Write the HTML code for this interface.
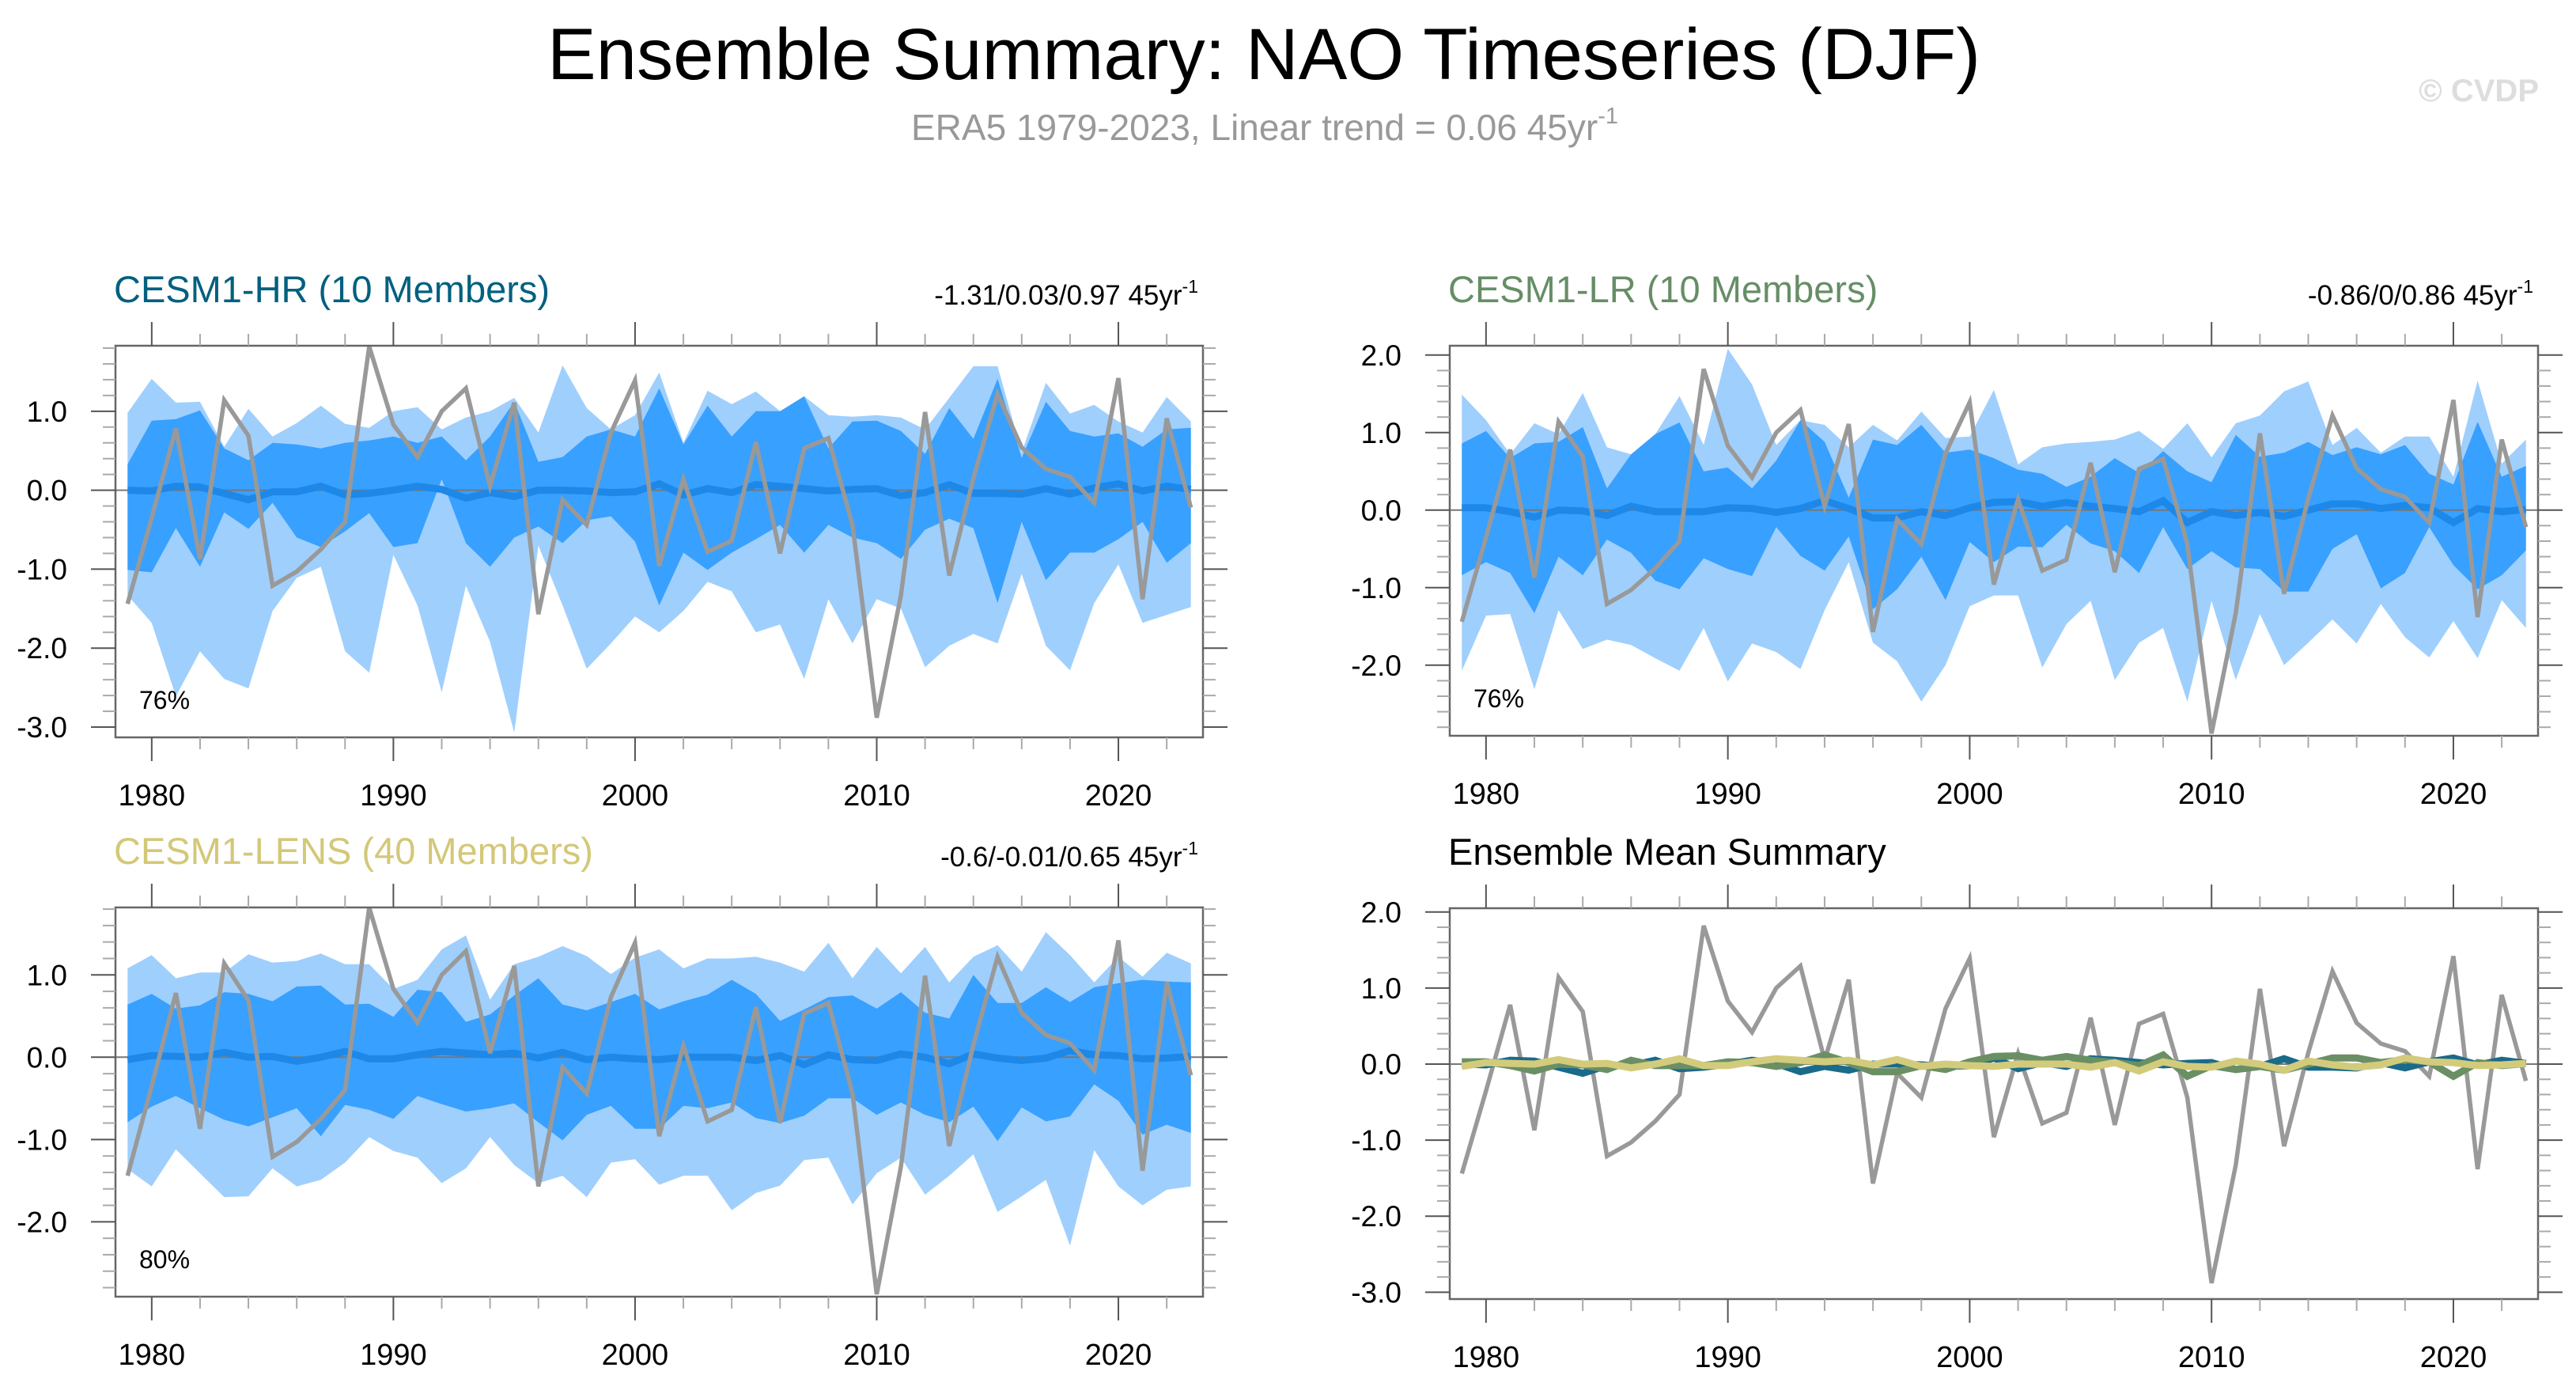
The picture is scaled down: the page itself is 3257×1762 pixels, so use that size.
<!DOCTYPE html>
<html><head><meta charset="utf-8">
<style>
html,body{margin:0;padding:0;background:#fff;}
svg{display:block;font-family:"Liberation Sans",Arial,sans-serif;}
</style></head>
<body>
<svg id="chart" xmlns="http://www.w3.org/2000/svg" width="3257" height="1762" viewBox="0 0 3257 1762">
<rect x="0" y="0" width="3257" height="1762" fill="#fff"/>
<text x="1598" y="100" font-size="92" text-anchor="middle" textLength="1812" lengthAdjust="spacingAndGlyphs" fill="#000">Ensemble Summary: NAO Timeseries (DJF)</text>
<text x="1152" y="177" font-size="46" fill="#999">ERA5 1979-2023, Linear trend = 0.06 45yr<tspan font-size="29" dy="-21">-1</tspan></text>
<text x="3210" y="128" font-size="40" font-weight="bold" text-anchor="end" fill="#ddd">© CVDP</text>
<g id="panels"></g>
</svg>
<script>
// ---- data ----
const years = [];
for (let y = 1979; y <= 2023; y++) years.push(y);
const era5 = [-1.44,-0.35,0.78,-0.87,1.14,0.69,-1.21,-1.03,-0.75,-0.40,1.82,0.83,0.42,1.0,1.29,0.05,1.11,-1.57,-0.12,-0.44,0.73,1.39,-0.96,0.14,-0.78,-0.64,0.61,-0.80,0.53,0.66,-0.44,-2.88,-1.33,0.99,-1.08,0.15,1.22,0.54,0.27,0.17,-0.16,1.42,-1.38,0.91,-0.22];

const hrOuterHi = [0.98,1.41,1.11,1.12,0.55,1.03,0.68,0.85,1.07,0.84,0.79,1.0,1.05,0.77,0.92,1.0,1.17,0.73,1.58,1.04,0.77,0.95,1.49,0.6,1.26,1.09,1.25,1.0,1.19,0.95,0.93,0.95,0.92,0.77,1.17,1.57,1.57,0.48,1.36,0.97,1.08,0.87,0.73,1.18,0.87];
const hrInnerHi = [0.33,0.88,0.9,1.01,0.53,0.38,0.6,0.58,0.53,0.6,0.63,0.68,0.6,0.68,0.38,0.68,1.12,0.36,0.42,0.68,0.77,0.68,1.29,0.58,1.07,0.68,1.0,1.0,1.19,0.53,0.87,0.88,0.75,0.46,1.04,0.65,1.41,0.41,1.12,0.75,0.68,0.72,0.55,0.77,0.79];
const hrInnerLo = [-1.01,-1.04,-0.48,-0.97,-0.28,-0.49,-0.16,-0.6,-0.72,-0.52,-0.29,-0.72,-0.67,0.14,-0.67,-0.97,-0.6,-0.46,-0.67,-0.38,-0.33,-0.65,-1.46,-0.79,-1.01,-0.79,-0.62,-0.44,-0.79,-0.44,-0.6,-0.67,-0.87,-0.5,-0.36,-0.48,-1.43,-0.4,-1.14,-0.79,-0.79,-0.62,-0.4,-0.92,-0.67];
const hrOuterLo = [-1.33,-1.68,-2.61,-2.04,-2.39,-2.51,-1.53,-1.11,-0.97,-2.04,-2.31,-0.82,-1.46,-2.56,-1.21,-1.92,-3.07,-0.7,-1.46,-2.26,-1.94,-1.6,-1.8,-1.53,-1.16,-1.28,-1.8,-1.7,-2.39,-1.38,-1.94,-1.38,-1.5,-2.24,-1.97,-1.82,-1.94,-1.06,-1.97,-2.28,-1.43,-0.94,-1.68,-1.58,-1.48];
const hrMean = [0.0,-0.01,0.05,0.04,-0.04,-0.12,-0.02,-0.02,0.05,-0.06,-0.04,0.0,0.05,0.01,-0.1,-0.03,-0.08,0.0,0.0,-0.01,-0.03,-0.02,0.08,-0.06,0.02,-0.03,0.07,0.05,0.02,-0.01,0.01,0.02,-0.07,-0.03,0.07,-0.04,-0.04,-0.05,0.02,-0.05,0.03,0.08,-0.01,0.05,0.01];

const lrOuterHi = [1.49,1.16,0.72,1.12,0.98,1.51,0.81,0.72,0.98,1.47,0.84,2.08,1.62,0.84,1.16,1.1,0.81,1.1,0.9,1.27,0.93,0.95,1.55,0.59,0.81,0.86,0.88,0.91,1.02,0.79,1.12,0.68,1.12,1.22,1.53,1.66,0.84,1.06,0.74,0.95,0.95,0.43,1.67,0.6,0.91];
const lrInnerHi = [0.86,1.02,0.67,0.86,0.88,1.07,0.28,0.72,0.98,1.13,0.5,0.55,0.28,0.64,1.16,0.88,0.16,0.91,0.84,1.1,0.74,0.78,0.67,0.52,0.47,0.3,0.43,0.67,0.48,0.76,0.5,0.36,0.97,0.69,0.74,0.88,0.71,0.81,0.72,0.84,0.47,0.33,1.14,0.43,0.57];
const lrInnerLo = [-0.84,-0.67,-0.81,-1.33,-0.6,-0.84,-0.38,-0.55,-0.91,-1.02,-0.62,-0.76,-0.85,-0.22,-0.59,-0.78,-0.34,-1.28,-1.02,-0.6,-1.16,-0.41,-0.67,-0.47,-0.48,-0.19,-0.43,-0.53,-0.81,-0.22,-0.76,-0.53,-0.74,-0.76,-1.05,-1.05,-0.5,-0.31,-1.01,-0.81,-0.22,-0.71,-1.02,-0.84,-0.52];
const lrOuterLo = [-2.07,-1.36,-1.34,-2.31,-1.29,-1.79,-1.67,-1.74,-1.91,-2.07,-1.52,-2.21,-1.72,-1.83,-2.05,-1.29,-0.67,-1.71,-1.95,-2.47,-2.0,-1.24,-1.1,-1.1,-2.03,-1.47,-1.17,-2.19,-1.71,-1.52,-2.47,-1.17,-2.19,-1.34,-2.0,-1.71,-1.41,-1.72,-1.21,-1.64,-1.9,-1.43,-1.91,-1.16,-1.52];
const lrMean = [0.03,0.03,-0.02,-0.09,0,-0.01,-0.07,0.05,-0.02,-0.02,-0.02,0.03,0.02,-0.03,0.02,0.12,0.02,-0.1,-0.1,-0.02,-0.07,0.03,0.1,0.11,0.05,0.1,0.05,0.02,-0.02,0.12,-0.16,-0.02,-0.07,-0.03,-0.08,0,0.08,0.08,0.02,0.06,0.03,-0.16,0.02,-0.02,0.01];

const lensOuterHi = [1.08,1.24,0.96,1.03,1.03,1.25,1.15,1.17,1.26,1.13,1.13,0.83,0.94,1.31,1.48,0.7,1.13,1.22,1.35,1.23,1.01,1.21,1.31,1.08,1.2,1.2,1.22,1.15,1.04,1.39,0.96,1.34,1.02,1.34,0.91,1.22,1.36,1.04,1.52,1.24,0.91,1.22,0.98,1.27,1.14];
const lensInnerHi = [0.64,0.77,0.59,0.63,0.79,0.77,0.68,0.86,0.87,0.64,0.65,0.49,0.82,0.79,0.43,0.52,0.75,0.96,0.64,0.57,0.67,0.77,0.58,0.68,0.76,0.94,0.77,0.44,0.58,0.73,0.75,0.59,0.79,0.54,0.47,1.0,0.66,0.66,0.85,0.67,0.85,0.9,0.94,0.92,0.91];
const lensInnerLo = [-0.79,-0.6,-0.47,-0.62,-0.76,-0.84,-0.73,-0.62,-0.96,-0.58,-0.64,-0.75,-0.47,-0.57,-0.66,-0.62,-0.56,-0.79,-1.01,-0.7,-0.59,-0.87,-0.87,-0.59,-0.62,-0.55,-0.74,-0.8,-0.71,-0.5,-0.5,-0.7,-0.55,-0.7,-0.79,-0.6,-1.02,-0.61,-0.78,-0.72,-0.33,-0.53,-0.94,-0.82,-0.92];
const lensOuterLo = [-1.36,-1.57,-1.12,-1.41,-1.7,-1.69,-1.35,-1.57,-1.49,-1.28,-0.97,-1.14,-1.22,-1.53,-1.35,-0.97,-1.31,-1.53,-1.44,-1.7,-1.28,-1.24,-1.55,-1.44,-1.44,-1.86,-1.65,-1.56,-1.25,-1.22,-1.79,-1.41,-1.22,-1.67,-1.44,-1.18,-1.88,-1.69,-1.49,-2.29,-1.13,-1.57,-1.8,-1.61,-1.57];
const lensMean = [-0.03,0.02,0.01,0,0.06,0,0.01,-0.05,0,0.07,-0.02,-0.02,0.03,0.07,0.05,0.03,0.05,-0.01,0.06,-0.03,0,-0.02,-0.03,0,0,0,-0.04,0.02,-0.09,0.03,-0.03,-0.04,0.04,0,-0.08,0.04,-0.01,-0.04,-0.01,0.08,0.03,0.02,-0.02,-0.01,0.01];

const xTickLabels = ["1980","1990","2000","2010","2020"];
const yTicksTopLeft = ["1.0","0.0","-1.0","-2.0","-3.0"];
const yTicksTopRight = ["2.0","1.0","0.0","-1.0","-2.0"];
const yTicksBotLeft = ["1.0","0.0","-1.0","-2.0"];
const yTicksBotRight = ["2.0","1.0","0.0","-1.0","-2.0","-3.0"];

// ---- drawing ----
const NS = "http://www.w3.org/2000/svg";
const root = document.getElementById("panels");
function mk(tag, parent, attrs) {
  const e = document.createElementNS(NS, tag);
  for (const k in attrs) e.setAttribute(k, attrs[k]);
  parent.appendChild(e);
  return e;
}

function drawPanel(p) {
  const g = mk("g", root, {});
  
  
  const X = v => p.x0 + (v - 1978.5) / 45 * (p.x1 - p.x0);
  const Y = v => p.y0 + (p.vmax - v) / (p.vmax - p.vmin) * (p.y1 - p.y0);
  const plot = mk("g", g, {});
  
  
  function band(hi, lo, color, nm) {
    let d = "";
    years.forEach((yr, i) => { d += (i ? "L" : "M") + X(yr).toFixed(1) + "," + Y(hi[i]).toFixed(1); });
    for (let i = years.length - 1; i >= 0; i--) d += "L" + X(years[i]).toFixed(1) + "," + Y(lo[i]).toFixed(1);
    const e = mk("path", plot, { d: d + "Z", fill: color, stroke: "none" });
    
    
  }
  function line(vals, color, w, nm) {
    const pts = years.map((yr, i) => X(yr).toFixed(1) + "," + Y(vals[i]).toFixed(1)).join(" ");
    const e = mk("polyline", plot, { points: pts, fill: "none", stroke: color, "stroke-width": w, "stroke-linejoin": "miter" });
    
    
  }
  if (p.bands) {
    band(p.bands[0], p.bands[3], "#9fcffd", "outer-spread-band");
    band(p.bands[1], p.bands[2], "#38a0ff", "inner-spread-band");
  }
  const z = mk("line", plot, { x1: p.x0, x2: p.x1, y1: Y(0), y2: Y(0), stroke: "#777", "stroke-width": 2 });
  
  
  if (p.bands) {
    line(p.mean, "#1e88e8", 9, "ensemble-mean-line");
    line(era5, "#999", 5.5, "era5-line");
  } else {
    line(era5, "#999", 5.5, "era5-line");
    line(hrMean, "#1a6a8a", 9, "cesm1-hr-mean-line");
    line(lrMean, "#6a8f64", 9, "cesm1-lr-mean-line");
    line(lensMean, "#d3cb7c", 9, "cesm1-lens-mean-line");
  }
  const fr = mk("rect", g, { x: p.x0, y: p.y0, width: p.x1 - p.x0, height: p.y1 - p.y0, fill: "none", stroke: "#666", "stroke-width": 2.5 });
  
  
  const xa = mk("g", g, {});
  
  
  for (let yr = 1980; yr <= 2022; yr += 2) {
    const major = (yr % 10 === 0);
    const L = major ? 30 : 15, x = X(yr);
    mk("line", xa, { x1: x, x2: x, y1: p.y0, y2: p.y0 - L, stroke: major ? "#555" : "#aaa", "stroke-width": 2 });
    mk("line", xa, { x1: x, x2: x, y1: p.y1, y2: p.y1 + L, stroke: major ? "#555" : "#aaa", "stroke-width": 2 });
  }
  xTickLabels.forEach(s => {
    const t = mk("text", xa, { x: X(+s), y: p.y1 + 86, "font-size": 38, "text-anchor": "middle", fill: "#000" });
    t.textContent = s;
    
    
  });
  const ya = mk("g", g, {});
  
  
  for (let k = Math.ceil(p.vmin * 5); k <= Math.floor(p.vmax * 5); k++) {
    const v = k / 5, major = (k % 5 === 0), L = major ? 31 : 16, y = Y(v);
    mk("line", ya, { x1: p.x0, x2: p.x0 - L, y1: y, y2: y, stroke: major ? "#555" : "#aaa", "stroke-width": 2 });
    mk("line", ya, { x1: p.x1, x2: p.x1 + L, y1: y, y2: y, stroke: major ? "#555" : "#aaa", "stroke-width": 2 });
  }
  p.yticks.forEach(s => {
    const t = mk("text", ya, { x: p.x0 - 61, y: Y(+s) + 13, "font-size": 37, "text-anchor": "end", fill: "#000" });
    t.textContent = s;
    
    
  });
  const tt = mk("text", g, { x: p.x0 - 2, y: p.y0 - 55, "font-size": 47, fill: p.color });
  tt.textContent = p.title;
  
  
  if (p.right) {
    const rt = mk("text", g, { x: p.x1 - 6, y: p.y0 - 52, "font-size": 35, "text-anchor": "end", fill: "#000" });
    
    
    rt.appendChild(document.createTextNode(p.right + " 45yr"));
    const sp = mk("tspan", rt, { "font-size": 23, dy: -15 });
    sp.textContent = "-1";
  }
  if (p.pct) {
    const pc = mk("text", g, { x: p.x0 + 30, y: p.y1 - 36, "font-size": 32, fill: "#000" });
    pc.textContent = p.pct;
    
    
  }
}

drawPanel({ name: "cesm1-hr-panel", x0: 146, x1: 1521, y0: 437, y1: 932, vmin: -3.13, vmax: 1.83,
  bands: [hrOuterHi, hrInnerHi, hrInnerLo, hrOuterLo], mean: hrMean, yticks: yTicksTopLeft,
  title: "CESM1-HR (10 Members)", color: "#00607f", right: "-1.31/0.03/0.97", pct: "76%" });
drawPanel({ name: "cesm1-lr-panel", x0: 1833, x1: 3209, y0: 437, y1: 930, vmin: -2.91, vmax: 2.12,
  bands: [lrOuterHi, lrInnerHi, lrInnerLo, lrOuterLo], mean: lrMean, yticks: yTicksTopRight,
  title: "CESM1-LR (10 Members)", color: "#668e66", right: "-0.86/0/0.86", pct: "76%" });
drawPanel({ name: "cesm1-lens-panel", x0: 146, x1: 1521, y0: 1147, y1: 1639, vmin: -2.91, vmax: 1.82,
  bands: [lensOuterHi, lensInnerHi, lensInnerLo, lensOuterLo], mean: lensMean, yticks: yTicksBotLeft,
  title: "CESM1-LENS (40 Members)", color: "#d3c878", right: "-0.6/-0.01/0.65", pct: "80%" });
drawPanel({ name: "ensemble-mean-summary-panel", x0: 1833, x1: 3209, y0: 1148, y1: 1642, vmin: -3.09, vmax: 2.05,
  bands: null, yticks: yTicksBotRight, title: "Ensemble Mean Summary", color: "#000" });
</script>
</body></html>
